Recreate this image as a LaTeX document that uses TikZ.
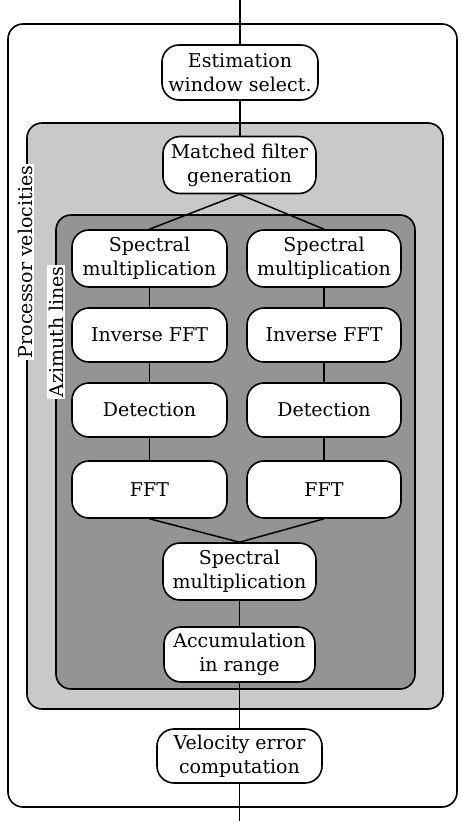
\documentclass[tikz,border=0pt]{standalone}
\usepackage{fontspec}
\setmainfont{DejaVu Serif}
\tikzset{
  proc/.style={draw, line width=1.6pt, rounded corners=17pt, fill=white, align=center,
    inner sep=0pt, font=\fontsize{19}{24}\selectfont},
  grp/.style={draw, line width=1.6pt, rounded corners=15pt},
  lbl/.style={fill=white, rotate=90, inner sep=1.5pt, font=\fontsize{19}{24}\selectfont},
  conn/.style={line width=1.5pt}
}
\begin{document}
\begin{tikzpicture}[x=1pt,y=-1pt]
\useasboundingbox (0,0) rectangle (460,821);
% group boxes
\draw[grp] (8,24) rectangle (457,807);
\draw[grp, fill=black!21] (27,123) rectangle (443,709);
\draw[grp, fill=black!42] (56,215) rectangle (415,689);
% labels
\node[lbl] (plab) at (25,262) {Processor velocities};
\node[lbl] (alab) at (56,332) {Azimuth lines};
% nodes
\node[proc, minimum width=156pt, minimum height=55pt] (est) at (240,72.5) {Estimation\\window select.};
\node[proc, minimum width=153pt, minimum height=57pt] (mf) at (239.5,165) {Matched filter\\generation};
\node[proc, minimum width=155pt, minimum height=57pt] (sm1) at (149.5,258.5) {Spectral\\multiplication};
\node[proc, minimum width=154pt, minimum height=57pt] (sm2) at (324,258.5) {Spectral\\multiplication};
\node[proc, minimum width=155pt, minimum height=54pt] (if1) at (149.5,335) {Inverse FFT};
\node[proc, minimum width=154pt, minimum height=54pt] (if2) at (324,335) {Inverse FFT};
\node[proc, minimum width=155pt, minimum height=54pt] (det1) at (149.5,410) {Detection};
\node[proc, minimum width=154pt, minimum height=54pt] (det2) at (324,410) {Detection};
\node[proc, minimum width=155pt, minimum height=57pt] (fft1) at (149.5,489.5) {FFT};
\node[proc, minimum width=154pt, minimum height=57pt] (fft2) at (324,489.5) {FFT};
\node[proc, minimum width=153pt, minimum height=57pt] (sm3) at (239.5,571.5) {Spectral\\multiplication};
\node[proc, minimum width=151pt, minimum height=55pt] (acc) at (239.5,654.5) {Accumulation\\in range};
\node[proc, minimum width=165pt, minimum height=54pt] (vel) at (239.5,756) {Velocity error\\computation};
% connectors
\coordinate (top) at (240,0);
\coordinate (bot) at (239.5,821);
\draw[conn] (top) -- (est.north);
\draw[conn] (est.south) -- (est.south |- mf.north);
\draw[conn] (mf.south) -- (sm1.north);
\draw[conn] (mf.south) -- (sm2.north);
\draw[conn] (sm1.south) -- (if1.north);
\draw[conn] (sm2.south) -- (if2.north);
\draw[conn] (if1.south) -- (det1.north);
\draw[conn] (if2.south) -- (det2.north);
\draw[conn] (det1.south) -- (fft1.north);
\draw[conn] (det2.south) -- (fft2.north);
\draw[conn] (fft1.south) -- (sm3.north);
\draw[conn] (fft2.south) -- (sm3.north);
\draw[conn] (sm3.south) -- (acc.north);
\draw[conn] (acc.south) -- (vel.north);
\draw[conn] (vel.south) -- (bot);
\end{tikzpicture}
\end{document}
